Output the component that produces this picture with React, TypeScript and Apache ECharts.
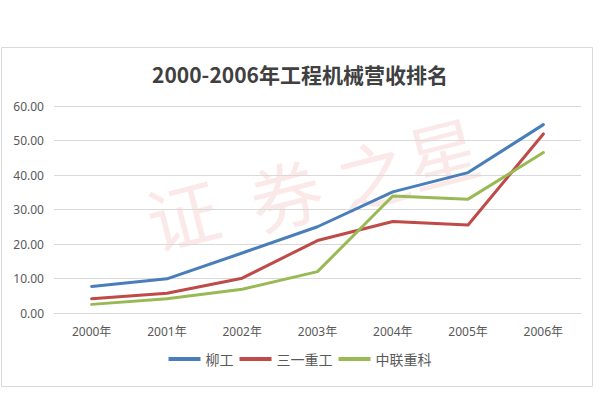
import React, { useEffect, useRef } from "react";
import * as echarts from "echarts";

const categories = ["2000年", "2001年", "2002年", "2003年", "2004年", "2005年", "2006年"];
const seriesNames = ["柳工", "三一重工", "中联重科"];
const liugong = [7.7, 9.9, 17.4, 25.0, 35.1, 40.7, 54.6];
const sany = [4.1, 5.7, 10.1, 21.0, 26.5, 25.5, 51.9];
const zoomlion = [2.5, 4.1, 6.9, 12.0, 33.9, 33.0, 46.5];
const colors = ["#4A7EBB", "#BE4B48", "#98B954"];
const titleText = "2000-2006年工程机械营收排名";
const watermark = ["证", "券", "之", "星"];

export default function App() {
  const ref = useRef<HTMLDivElement>(null);
  useEffect(() => {
    document.body.style.margin = "0";
    const chart = echarts.init(ref.current!, undefined, { renderer: "svg" });
    const font = "'Noto Sans', 'Noto Sans CJK SC', sans-serif";
    const wmPos = [
      [182, 212],
      [285, 192],
      [372, 172],
      [442, 150],
    ];
    chart.setOption({
      animation: false,
      backgroundColor: "#ffffff",
      textStyle: { fontFamily: font },
      title: {
        text: titleText,
        left: "center",
        top: 58,
        textStyle: { fontSize: 21, fontWeight: "bold", color: "#404040", fontFamily: "'Noto Sans CJK SC', sans-serif" },
      },
      graphic: [
        {
          type: "rect",
          shape: { x: 1.5, y: 47.5, width: 591, height: 339 },
          style: { fill: "none", stroke: "#d9d9d9", lineWidth: 1 },
          z: -10,
        },
        ...watermark.map((ch, i) => ({
          type: "text",
          x: wmPos[i][0],
          y: wmPos[i][1],
          rotation: 0.25,
          z: -5,
          style: {
            text: ch,
            font: "normal 72px 'Noto Sans CJK SC', sans-serif",
            fill: "rgba(235,130,125,0.18)",
            textAlign: "center",
            textVerticalAlign: "middle",
          },
        })),
      ],
      grid: { left: 54, right: 19, top: 106, bottom: 99, containLabel: false },
      legend: {
        data: seriesNames,
        bottom: 41,
        left: "center",
        icon: "rect",
        itemWidth: 32,
        itemHeight: 4,
        itemGap: 6,
        textStyle: { fontSize: 14, color: "#595959", fontFamily: "'Noto Sans CJK SC', sans-serif" },
      },
      xAxis: {
        type: "category",
        data: categories,
        boundaryGap: true,
        axisLine: { lineStyle: { color: "#d9d9d9" } },
        axisTick: { show: false },
        axisLabel: { color: "#595959", fontSize: 12, margin: 12, fontFamily: font },
      },
      yAxis: {
        type: "value",
        min: 0,
        max: 60,
        interval: 10,
        axisLine: { show: false },
        axisTick: { show: false },
        splitLine: { lineStyle: { color: "#d9d9d9" } },
        axisLabel: {
          color: "#595959",
          fontSize: 12,
          margin: 10,
          fontFamily: font,
          formatter: (v: number) => v.toFixed(2),
        },
      },
      series: [liugong, sany, zoomlion].map((d, i) => ({
        name: seriesNames[i],
        type: "line",
        data: d,
        showSymbol: false,
        symbol: "none",
        lineStyle: { width: 3, color: colors[i], cap: "round", join: "round" },
        itemStyle: { color: colors[i] },
      })),
    });
    return () => chart.dispose();
  }, []);
  return <div ref={ref} style={{ width: 600, height: 412 }} />;
}
